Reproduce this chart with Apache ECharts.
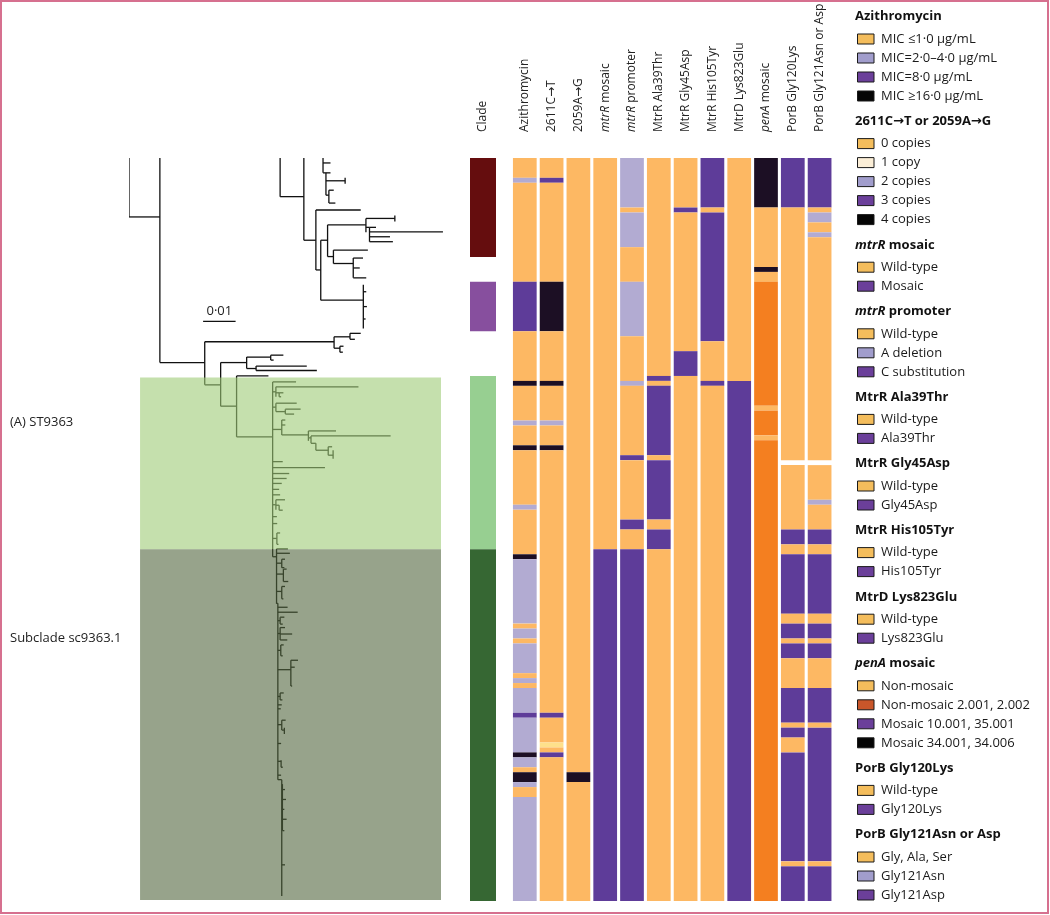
<!DOCTYPE html>
<html><head><meta charset="utf-8">
<script src="https://cdn.jsdelivr.net/npm/echarts@6/dist/echarts.min.js"></script>
<style>html,body{margin:0;padding:0;background:#fff}#c{width:1050px;height:915px}</style>
</head><body><div id="c"></div>
<script>
// ---------- DATA ----------
const columnNames = ['Azithromycin','2611C→T','2059A→G','mtrR mosaic','mtrR promoter','MtrR Ala39Thr','MtrR Gly45Asp','MtrR His105Tyr','MtrD Lys823Glu','penA mosaic','PorB Gly120Lys','PorB Gly121Asn or Asp'];
const italicPrefix = ['mtrR','penA'];
const rowCount = 150;
// run-length rows (top to bottom): [number of rows, state]
const cladeRuns = [[20,'red'],[5,''],[10,'violet'],[9,''],[35,'lgreen'],[71,'dgreen']];
const azithromycin = [[4,'o'],[1,'l'],[20,'o'],[10,'p'],[10,'o'],[1,'k'],[7,'o'],[1,'l'],[4,'o'],[1,'k'],[11,'o'],[1,'l'],[9,'o'],[1,'k'],[13,'l'],[1,'o'],[2,'l'],[1,'o'],[6,'l'],[1,'o'],[1,'l'],[1,'o'],[5,'l'],[1,'p'],[7,'l'],[1,'k'],[2,'l'],[1,'o'],[2,'k'],[1,'l'],[2,'o'],[21,'l']];
const c2611 = [[4,'o'],[1,'p'],[20,'o'],[10,'k'],[10,'o'],[1,'k'],[7,'o'],[1,'l'],[4,'o'],[1,'k'],[53,'o'],[1,'p'],[5,'o'],[1,'y'],[1,'o'],[1,'p'],[29,'o']];
const c2059 = [[124,'o'],[2,'k'],[24,'o']];
const mtrRMosaic = [[79,'o'],[71,'p']];
const mtrRPromoter = [[10,'l'],[1,'o'],[7,'l'],[7,'o'],[11,'l'],[9,'o'],[1,'l'],[14,'o'],[1,'p'],[12,'o'],[2,'p'],[4,'o'],[71,'p']];
const ala39Thr = [[44,'o'],[1,'p'],[1,'o'],[14,'p'],[1,'o'],[12,'p'],[2,'o'],[4,'p'],[71,'o']];
const gly45Asp = [[10,'o'],[1,'p'],[28,'o'],[5,'p'],[106,'o']];
const his105Tyr = [[10,'p'],[1,'o'],[26,'p'],[8,'o'],[1,'p'],[104,'o']];
const lys823Glu = [[45,'o'],[105,'p']];
const penAMosaic = [[10,'k'],[12,'o'],[1,'k'],[2,'o'],[25,'b'],[1,'o'],[5,'b'],[1,'o'],[93,'b']];
const gly120Lys = [[10,'p'],[51,'o'],[1,''],[13,'o'],[3,'p'],[2,'o'],[12,'p'],[2,'o'],[3,'p'],[1,'o'],[3,'p'],[6,'o'],[7,'p'],[1,'o'],[2,'p'],[3,'o'],[22,'p'],[1,'o'],[7,'p']];
const gly121 = [[10,'p'],[1,'o'],[2,'l'],[2,'o'],[1,'l'],[45,'o'],[1,''],[7,'o'],[1,'l'],[5,'o'],[3,'p'],[2,'o'],[12,'p'],[2,'o'],[3,'p'],[1,'o'],[3,'p'],[6,'o'],[7,'p'],[1,'o'],[27,'p'],[1,'o'],[7,'p']];
const heatColumns = [azithromycin,c2611,c2059,mtrRMosaic,mtrRPromoter,ala39Thr,gly45Asp,his105Tyr,lys823Glu,penAMosaic,gly120Lys,gly121];

// tree: branch length unit = 0.001 substitutions/site, y = row position
const treeV = [[0,0,11.9],[9.5,0,41.3],[46.5,0,7.8],[53.8,0,16.6],[57.5,10.5,22.6],[59.0,16.6,28.7],[61.1,13.5,19.9],[72.9,12.2,15.0],[74.0,14.0,16.9],[81.8,11.6,12.8],[62.9,18.6,21.3],[69.0,20.2,24.2],[72.1,25.6,34.4],[59.7,0,3.0],[60.6,3.0,7.5],[61.5,6.5,9.1],[66.5,4.0,5.2],[23.3,37.1,45.8],[63.1,36.1,38.4],[68.0,35.4,36.6],[64.9,38.0,39.2],[28.2,41.3,50.1],[36.2,40.2,42.5],[43.6,39.8,40.8],[39.1,42.0,42.9],[33.1,44.0,56.3],[44.2,45.2,80.5],[45.2,46.2,48.2],[46.2,47.4,48.2],[45.2,49.5,51.2],[48.1,50.7,51.7],[47.0,52.9,55.9],[55.2,55.1,57.1],[56.0,56.1,57.6],[57.5,57.6,59.0],[61.3,58.3,60.0],[62.8,59.0,60.7],[45.2,69.0,71.0],[46.2,70.1,71.1],[45.5,75.7,78.0],[45.4,78.9,90.0],[45.8,89.9,125.5],[47.0,81.0,82.7],[47.5,83.0,85.5],[47.0,86.5,89.0],[46.5,92.7,94.1],[46.5,94.8,97.3],[46.7,98.3,100.5],[49.8,101.4,106.6],[46.5,108.0,109.4],[47.0,113.5,115.5],[47.8,115.0,116.3],[46.8,121.6,123.0],[47.2,126.4,135.8],[47.0,125.5,149.0]];
const treeH = [[0,9.5,11.9],[46.5,53.8,7.8],[53.8,57.5,16.6],[57.5,71.3,10.5],[57.5,59.0,22.6],[59.0,61.1,16.6],[59.0,72.1,28.7],[61.1,72.9,13.5],[72.9,81.8,12.2],[72.9,74.0,14.0],[74.0,76.0,14.0],[74.0,96.6,14.9],[74.0,80.3,15.9],[74.0,81.2,16.9],[61.1,62.9,19.9],[62.9,73.5,18.6],[62.9,69.0,21.3],[69.0,72.0,20.2],[69.0,71.0,22.2],[69.0,73.0,24.2],[72.1,73.0,27.0],[72.1,73.2,30.0],[72.1,72.8,32.5],[59.7,62.0,1.0],[59.7,60.6,3.0],[60.6,62.0,3.0],[60.6,66.5,4.6],[60.6,61.5,7.5],[61.5,63.0,6.5],[61.5,63.5,9.1],[9.5,23.3,41.3],[23.3,63.1,37.1],[23.3,28.2,45.8],[63.1,68.0,36.1],[68.0,71.3,35.4],[68.0,69.5,36.6],[63.1,64.9,38.4],[64.9,66.0,38.0],[64.9,65.8,39.2],[28.2,36.2,41.3],[28.2,33.1,50.1],[36.2,43.6,40.2],[36.2,39.1,42.5],[43.6,47.5,39.8],[43.6,44.5,40.8],[39.1,54.7,42.0],[39.1,57.8,42.9],[33.1,42.9,44.0],[33.1,44.2,56.3],
[44.2,51.4,45.2],[44.2,45.2,47.2],[45.2,70.6,46.2],[45.2,46.2,47.4],[46.2,47.5,47.4],[46.2,46.8,48.2],[44.2,45.2,50.3],[45.2,51.6,49.5],[45.2,48.1,51.2],[48.1,52.8,50.7],[48.1,50.8,51.7],[44.2,47.0,54.8],[47.0,48.1,52.9],[47.0,48.1,53.9],[47.0,55.2,55.9],[55.2,63.7,55.1],[55.2,56.0,56.5],[56.0,80.5,56.1],[56.0,57.5,57.6],[57.5,61.3,59.0],[61.3,62.5,58.3],[61.3,62.8,60.0],[44.2,47.3,61.3],[44.2,60.3,62.5],[44.2,49.3,63.7],[44.2,48.5,64.7],[44.2,47.0,65.7],[44.2,46.2,66.9],[44.2,46.5,68.0],[44.2,45.2,70.0],[45.2,48.0,69.0],[45.2,46.2,70.1],[46.2,47.3,71.1],[44.2,45.5,72.4],[44.2,45.6,73.8],[44.2,45.5,76.8],[45.5,46.5,75.7],[45.5,46.0,78.0],[44.2,45.4,80.5],
[45.4,48.9,78.9],[45.4,49.5,79.8],[45.4,47.0,81.8],[47.0,48.0,81.0],[47.0,47.8,82.7],[45.4,47.5,84.0],[47.5,48.5,83.0],[47.5,49.0,85.5],[45.4,47.0,87.5],[47.0,48.0,86.5],[47.0,47.5,89.0],[45.4,45.8,89.9],[45.8,48.8,90.7],[45.8,51.9,91.7],[45.8,46.5,93.4],[46.5,47.8,92.7],[46.5,47.3,94.1],[45.8,46.5,96.0],[46.5,48.0,94.8],[46.5,50.2,96.1],[46.5,48.7,97.3],[45.8,46.7,99.4],[46.7,47.6,98.3],[46.7,47.3,100.5],[45.8,49.8,103.3],[49.8,52.0,101.4],[49.8,51.0,102.8],[49.8,50.2,106.6],[45.8,46.5,108.7],[46.5,47.6,108.0],[46.5,47.2,109.4],[45.8,47.0,110.4],[45.8,46.7,111.2],[45.8,47.0,114.4],[47.0,48.2,113.5],[47.0,47.8,115.5],[45.8,46.8,118.2],[45.8,46.8,121.8],[46.8,47.3,123.0],[45.8,46.8,124.6],[45.8,47.0,125.5],[47.2,48.0,127.5],[47.2,48.3,129.5],[47.2,47.8,131.5],[47.2,48.5,133.5],[47.2,47.8,135.8],[47.0,48.0,142.7]];
const cladeBoxes = [['(A) ST9363',44.3,79.0,3.4,96.0,'light'],['Subclade sc9363.1',79.0,149.8,3.4,96.0,'dark']];
const cladeBoxLabelRows = [53.3, 97.0];
const scaleBar = [22.8, 33.0, 10]; // start x, row, length (0.01)

// ---------- STYLE ----------
const cellColors = {o:'#fdb863',l:'#b2abd2',p:'#5e3c99',k:'#1c0f24',y:'#fee08b',b:'#f47f20',red:'#650d0e',violet:'#874f9e',lgreen:'#97cf91',dgreen:'#366733'};
const FONT = '"Open Sans", "DejaVu Sans", sans-serif';
const O='#f4bd5c', L='#a19dcc', P='#6b3f9a', K='#050505';
const legendGroups = [
 {title:'Azithromycin', items:[['MIC ≤1·0 μg/mL',O],['MIC=2·0–4·0 μg/mL',L],['MIC=8·0 μg/mL',P],['MIC ≥16·0 μg/mL',K]]},
 {title:'2611C→T or 2059A→G', items:[['0 copies',O],['1 copy','#fbeed7'],['2 copies',L],['3 copies',P],['4 copies',K]]},
 {title:'{i|mtrR} mosaic', items:[['Wild-type',O],['Mosaic',P]]},
 {title:'{i|mtrR} promoter', items:[['Wild-type',O],['A deletion',L],['C substitution',P]]},
 {title:'MtrR Ala39Thr', items:[['Wild-type',O],['Ala39Thr',P]]},
 {title:'MtrR Gly45Asp', items:[['Wild-type',O],['Gly45Asp',P]]},
 {title:'MtrR His105Tyr', items:[['Wild-type',O],['His105Tyr',P]]},
 {title:'MtrD Lys823Glu', items:[['Wild-type',O],['Lys823Glu',P]]},
 {title:'{i|penA} mosaic', items:[['Non-mosaic',O],['Non-mosaic 2.001, 2.002','#c9562a'],['Mosaic 10.001, 35.001',P],['Mosaic 34.001, 34.006',K]]},
 {title:'PorB Gly120Lys', items:[['Wild-type',O],['Gly120Lys',P]]},
 {title:'PorB Gly121Asn or Asp', items:[['Gly, Ala, Ser',O],['Gly121Asn',L],['Gly121Asp',P]]}
];

// ---------- BUILD ----------
function runsToCells(runs, col){
  let r = 0; const out = [];
  runs.forEach(([n, c]) => { if (c) out.push({value:[col, r, r + n], itemStyle:{color: cellColors[c]}}); r += n; });
  return out;
}
const heatData = [];
heatColumns.forEach((runs, i) => heatData.push(...runsToCells(runs, i)));
const cladeData = runsToCells(cladeRuns, 0);

const segs = [];
treeV.forEach(([x, a, b]) => segs.push([x, a, x, b]));
treeH.forEach(([a, b, y]) => segs.push([a, y, b, y]));

function labelFmt(v){
  for (const p of italicPrefix) if (v.indexOf(p) === 0) return '{i|' + p + '}' + v.slice(p.length);
  return v;
}
function cellRender(ratio){
  return function(params, api){
    const c = api.value(0);
    const p0 = api.coord([c, api.value(1)]), p1 = api.coord([c, api.value(2)]);
    const w = api.size([1, 0])[0] * ratio;
    return {type:'rect', shape:{x:p0[0] - w/2, y:p0[1], width:w, height:p1[1] - p0[1]}, style:{fill: api.visual('color')}};
  };
}
const topLabel = {rotate:90, margin:26, fontSize:12, color:'#222', fontFamily:FONT, formatter:labelFmt, rich:{i:{fontStyle:'italic', fontSize:12, color:'#222', fontFamily:FONT}}};

const graphics = [];
let ly = 16.7;
legendGroups.forEach((g, gi) => {
  if (gi > 0) ly += 25.3;
  graphics.push({type:'text', x:855, y:ly, style:{text:g.title, fontFamily:FONT, fontSize:13, fontWeight:'bold', fill:'#111', verticalAlign:'middle', rich:{i:{fontStyle:'italic', fontWeight:'bold', fontSize:13, fontFamily:FONT, fill:'#111'}}}});
  ly += 3.3;
  g.items.forEach(([t, c]) => {
    ly += 19;
    graphics.push({type:'rect', shape:{x:857.5, y:ly - 5, width:16.5, height:10}, style:{fill:c, stroke:'#1a1a1a', lineWidth:1}});
    graphics.push({type:'text', x:881, y:ly, style:{text:t, fontFamily:FONT, fontSize:13, fill:'#1a1a1a', verticalAlign:'middle'}});
  });
});
graphics.push({type:'rect', shape:{x:1, y:1, width:1047, height:912}, style:{fill:'none', stroke:'#d6708f', lineWidth:2}, z:100});

const chart = echarts.init(document.getElementById('c'), null, {renderer:'canvas'});
chart.setOption({
  backgroundColor:'#fff',
  animation:false,
  grid:[
    {left:129, top:158, width:325, height:743},
    {left:470, top:158, width:26, height:743},
    {left:511.4, top:158, width:321.6, height:743}
  ],
  xAxis:[
    {gridIndex:0, type:'value', min:0, max:100, show:false},
    {gridIndex:1, type:'category', data:['Clade'], position:'top', axisLine:{show:false}, axisTick:{show:false}, axisLabel:topLabel},
    {gridIndex:2, type:'category', data:columnNames, position:'top', axisLine:{show:false}, axisTick:{show:false}, axisLabel:topLabel}
  ],
  yAxis:[
    {gridIndex:0, type:'value', min:0, max:rowCount, inverse:true, show:false},
    {gridIndex:1, type:'value', min:0, max:rowCount, inverse:true, show:false},
    {gridIndex:2, type:'value', min:0, max:rowCount, inverse:true, show:false}
  ],
  series:[
    {type:'custom', xAxisIndex:0, yAxisIndex:0, z:2, clip:true, data:segs,
     renderItem:function(params, api){
       const a = api.coord([api.value(0), api.value(1)]), b = api.coord([api.value(2), api.value(3)]);
       return {type:'line', shape:{x1:a[0], y1:a[1], x2:b[0], y2:b[1]}, style:{stroke:'#111', lineWidth:1.3}};
     }},
    {type:'custom', xAxisIndex:0, yAxisIndex:0, z:3, data:cladeBoxes.map(b => [b[3], b[1], b[4], b[2], b[5] === 'light' ? 0 : 1]),
     renderItem:function(params, api){
       const a = api.coord([api.value(0), api.value(1)]), b = api.coord([api.value(2), api.value(3)]);
       const fill = api.value(4) === 0 ? 'rgba(158,203,118,0.6)' : 'rgba(82,102,62,0.6)';
       return {type:'rect', shape:{x:a[0], y:a[1], width:b[0]-a[0], height:b[1]-a[1]}, style:{fill:fill}};
     }},
    {type:'custom', xAxisIndex:0, yAxisIndex:0, z:4, data:[scaleBar],
     renderItem:function(params, api){
       const a = api.coord([api.value(0), api.value(1)]), b = api.coord([api.value(0) + api.value(2), api.value(1)]);
       return {type:'group', children:[
         {type:'line', shape:{x1:a[0], y1:a[1], x2:b[0], y2:b[1]}, style:{stroke:'#111', lineWidth:1.3}},
         {type:'text', x:(a[0]+b[0])/2, y:a[1]-10, style:{text:'0·01', fontFamily:FONT, fontSize:13, fill:'#222', align:'center', verticalAlign:'middle'}}
       ]};
     }},
    {type:'custom', xAxisIndex:0, yAxisIndex:0, z:4, clip:false, data:cladeBoxes.map((b, i) => [0, cladeBoxLabelRows[i]]),
     renderItem:function(params, api){
       const a = api.coord([0, api.value(1)]);
       return {type:'text', x:10, y:a[1], style:{text:cladeBoxes[params.dataIndex][0], fontFamily:FONT, fontSize:13, fill:'#222', verticalAlign:'middle'}};
     }},
    {type:'custom', xAxisIndex:1, yAxisIndex:1, data:cladeData, renderItem:cellRender(1.0)},
    {type:'custom', xAxisIndex:2, yAxisIndex:2, data:heatData, renderItem:cellRender(0.885)}
  ],
  graphic:graphics
});
</script></body></html>
